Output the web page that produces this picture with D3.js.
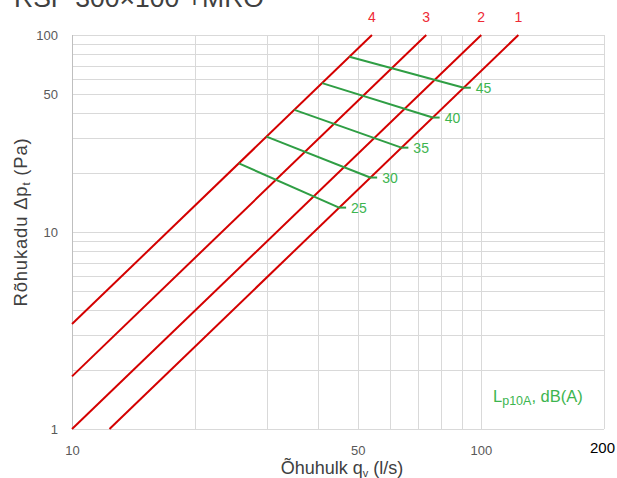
<!DOCTYPE html>
<html>
<head>
<meta charset="utf-8">
<script src="https://cdn.jsdelivr.net/npm/d3@7"></script>
<style>
  html, body { margin: 0; padding: 0; background: #fff; }
  svg { display: block; }
</style>
</head>
<body>
<svg id="chart" width="617" height="478"></svg>
<script>
// Axis ticks and grid
const xTickValues = [10, 50, 100, 200];
const yTickValues = [1, 10, 50, 100];
const xGridValues = [10, 20, 30, 40, 50, 60, 70, 80, 90, 100, 200];
const yGridValues = [1, 2, 3, 4, 5, 6, 7, 8, 9, 10, 20, 30, 40, 50, 60, 70, 80, 90, 100];

// Pressure-drop curves (flow l/s, pressure Pa) at each end
const curveIds = ["1", "2", "3", "4"];
const curveStart = [[12.35, 1.0], [10, 1.0], [10, 1.85], [10, 3.41]];
const curveEnd = [[123.5, 100], [100.2, 100], [73.5, 100], [54.15, 100]];

// Sound level lines Lp10A, from curve 4 to curve 1
const noiseLevels = [25, 30, 35, 40, 45];
const noiseStart = [[25.6, 22.3], [29.9, 30.5], [35.0, 41.7], [40.9, 57.0], [47.7, 77.5]];
const noiseEnd = [[45.0, 13.3], [53.6, 18.9], [63.9, 26.8], [76.2, 38.1], [90.8, 54.0]];

const titleText = "RSP 300×100 +MRO";

const svg = d3.select("#chart");
const plotLeft = 72, plotRight = 604, plotTop = 35, plotBottom = 429;

const x = d3.scaleLog().domain([10, 200]).range([plotLeft, plotRight]);
const y = d3.scaleLog().domain([1, 100]).range([plotBottom, plotTop]);

const tickFont = "'Liberation Sans', Arial, sans-serif";

// Title (partly above the page edge)
svg.append("text")
  .attr("x", 14).attr("y", 7)
  .attr("font-family", tickFont)
  .attr("font-size", 26.5)
  .attr("fill", "#404040")
  .text(titleText);

// Grid
const grid = svg.append("g");
grid.selectAll("line.h").data(yGridValues).join("line")
  .attr("class", "h")
  .attr("x1", plotLeft).attr("x2", plotRight)
  .attr("y1", d => Math.round(y(d)) + 0.5).attr("y2", d => Math.round(y(d)) + 0.5)
  .attr("stroke", "#d9d9d9").attr("stroke-width", 1);
grid.selectAll("line.v").data(xGridValues).join("line")
  .attr("class", "v")
  .attr("y1", plotTop).attr("y2", plotBottom)
  .attr("x1", d => Math.round(x(d)) + 0.5).attr("x2", d => Math.round(x(d)) + 0.5)
  .attr("stroke", d => d === 10 ? "#bfbfbf" : "#d9d9d9").attr("stroke-width", 1);

// Axes (labels only; lines come from the grid)
const xAxis = d3.axisBottom(x).tickValues(xTickValues).tickFormat(d3.format("d")).tickSize(0).tickPadding(17);
const gx = svg.append("g").attr("transform", `translate(0,${plotBottom})`).call(xAxis);
gx.select(".domain").remove();
gx.selectAll("text")
  .attr("font-family", tickFont)
  .attr("font-size", d => d === 200 ? 15 : 13)
  .attr("fill", d => d === 200 ? "#000" : "#595959")
  .attr("dx", d => d === 200 ? -2 : 0)
  .attr("dy", d => d === 200 ? "0.45em" : "0.71em");

const yAxis = d3.axisLeft(y).tickValues(yTickValues).tickFormat(d3.format("d")).tickSize(0).tickPadding(14);
const gy = svg.append("g").attr("transform", `translate(${plotLeft},0)`).call(yAxis);
gy.select(".domain").remove();
gy.selectAll("text")
  .attr("font-family", tickFont).attr("font-size", 13)
  .attr("fill", "#595959");

// Pressure-drop curves
const curveLine = d3.line().x(d => x(d[0])).y(d => y(d[1]));
svg.append("g").selectAll("path").data(curveIds).join("path")
  .attr("d", (d, i) => curveLine([curveStart[i], curveEnd[i]]))
  .attr("fill", "none")
  .attr("stroke", "#d40000")
  .attr("stroke-width", 2);

svg.append("g").selectAll("text").data(curveIds).join("text")
  .attr("x", (d, i) => x(curveEnd[i][0]))
  .attr("y", 22)
  .attr("text-anchor", "middle")
  .attr("font-family", tickFont)
  .attr("font-size", 14)
  .attr("fill", "#ee2a35")
  .text(d => d);

// Sound level lines
const green = "#2f9e44";
const ng = svg.append("g");
ng.selectAll("path.n").data(noiseLevels).join("path")
  .attr("class", "n")
  .attr("d", (d, i) => curveLine([noiseStart[i], noiseEnd[i]]))
  .attr("fill", "none").attr("stroke", green).attr("stroke-width", 2);
ng.selectAll("line.tick").data(noiseLevels).join("line")
  .attr("class", "tick")
  .attr("x1", (d, i) => x(noiseEnd[i][0]))
  .attr("x2", (d, i) => x(noiseEnd[i][0]) + 7)
  .attr("y1", (d, i) => y(noiseEnd[i][1]))
  .attr("y2", (d, i) => y(noiseEnd[i][1]))
  .attr("stroke", green).attr("stroke-width", 2);
ng.selectAll("text").data(noiseLevels).join("text")
  .attr("x", (d, i) => x(noiseEnd[i][0]) + 12)
  .attr("y", (d, i) => y(noiseEnd[i][1]))
  .attr("dy", "0.36em")
  .attr("font-family", tickFont)
  .attr("font-size", 14)
  .attr("fill", "#3db54f")
  .text(d => d);

// Legend note
const note = svg.append("text")
  .attr("x", 493).attr("y", 402)
  .attr("font-family", tickFont)
  .attr("font-size", 16.5)
  .attr("fill", "#3db54f");
note.append("tspan").text("L");
note.append("tspan").attr("font-size", 12.5).attr("dy", 3).text("p10A");
note.append("tspan").attr("dy", -3).text(", dB(A)");

// Axis titles
const xt = svg.append("text")
  .attr("x", 342).attr("y", 474)
  .attr("text-anchor", "middle")
  .attr("font-family", tickFont)
  .attr("font-size", 18)
  .attr("fill", "#404040");
xt.append("tspan").text("Õhuhulk q");
xt.append("tspan").attr("font-size", 11).attr("dy", 3).text("v");
xt.append("tspan").attr("dy", -3).text(" (l/s)");

const yt = svg.append("text")
  .attr("transform", "translate(27,222) rotate(-90)")
  .attr("text-anchor", "middle")
  .attr("font-family", tickFont)
  .attr("font-size", 18.5)
  .attr("letter-spacing", 0.8)
  .attr("fill", "#404040");
yt.append("tspan").text("Rõhukadu Δp");
yt.append("tspan").attr("font-size", 11.5).attr("dy", 3).text("t");
yt.append("tspan").attr("dy", -3).text(" (Pa)");
</script>
</body>
</html>
